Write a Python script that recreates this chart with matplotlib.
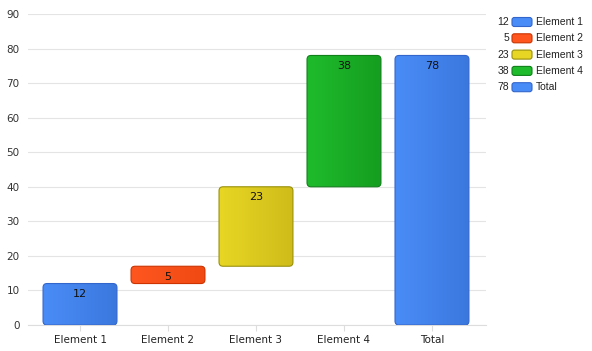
import numpy as np
import matplotlib
matplotlib.use("Agg")
import matplotlib.pyplot as plt
from matplotlib.patches import FancyBboxPatch
from matplotlib.colors import LinearSegmentedColormap

# waterfall data
categories = ["Element 1", "Element 2", "Element 3", "Element 4", "Total"]
values = [12, 5, 23, 38, 78]
is_total = [False, False, False, False, True]

# (light, dark, border) per bar
colors = [("#4a8cf7", "#3b78de", "#3366cc"),
          ("#ff5620", "#f04a12", "#cc3300"),
          ("#e8d624", "#cfbc1a", "#99900a"),
          ("#1fbb2c", "#159e20", "#10801a"),
          ("#4a8cf7", "#3b78de", "#3366cc")]

W, H = 592, 351
fig = plt.figure(figsize=(W / 100, H / 100), dpi=100)
ax = fig.add_axes([28 / W, (H - 325) / H, (486 - 28) / W, (325 - 14) / H])

ax.set_ylim(0, 90)
ax.set_xlim(-0.591, 4.614)
ax.set_yticks(range(0, 91, 10))
ax.set_xticks(range(len(categories)))
ax.set_xticklabels(categories)
ax.grid(axis="y", color="#e4e4e4", lw=0.8)
ax.set_axisbelow(True)
for s in ["top", "right", "left"]:
    ax.spines[s].set_visible(False)
ax.spines["bottom"].set_color("#dddddd")
ax.tick_params(axis="y", length=0, pad=6, labelsize=7.5, labelcolor="#333333")
ax.tick_params(axis="x", length=4, color="#dddddd", labelsize=7.5, labelcolor="#222222", pad=3)

bw = 0.84
rx = 4 / 88  # corner radius in x units
aspect = 88 / (311 / 90)

bottoms = []
run = 0
for v, t in zip(values, is_total):
    if t:
        bottoms.append(0)
    else:
        bottoms.append(run)
        run += v

for i, (v, b, c) in enumerate(zip(values, bottoms, colors)):
    x0 = i - bw / 2
    patch = FancyBboxPatch((x0, b), bw, v,
                           boxstyle=f"round,pad=0,rounding_size={rx}",
                           mutation_aspect=aspect,
                           fc="none", ec=c[2], lw=0.8, zorder=3)
    ax.add_patch(patch)
    cmap = LinearSegmentedColormap.from_list("g", [c[0], c[1]])
    grad = np.linspace(0, 1, 64).reshape(1, -1)
    im = ax.imshow(grad, cmap=cmap, extent=[x0, x0 + bw, b, b + v],
                   aspect="auto", zorder=2, interpolation="bilinear")
    im.set_clip_path(patch)
    ax.text(i, b + v - 1.6, str(v), ha="center", va="top",
            fontsize=8, color="#111111", zorder=4)

ax.set_xlim(-0.591, 4.614)
ax.set_ylim(0, 90)

# legend with values
ys = [22 + 16.3 * k for k in range(len(categories))]
for k, (name, v, c) in enumerate(zip(categories, values, colors)):
    yc = 1 - ys[k] / H
    fig.text(509 / W, yc, str(v), ha="right", va="center", fontsize=7.5,
             family="Liberation Sans", color="#222222")
    sw = FancyBboxPatch((512 / W, yc - 4.5 / H), 20 / W, 9 / H,
                        boxstyle="round,pad=0,rounding_size=0.004",
                        mutation_aspect=W / H,
                        transform=fig.transFigure, fc=c[0], ec=c[2], lw=0.8)
    fig.add_artist(sw)
    fig.text(536 / W, yc, name, ha="left", va="center", fontsize=7.5,
             family="Liberation Sans", color="#222222")

fig.savefig("out.png", dpi=100)
